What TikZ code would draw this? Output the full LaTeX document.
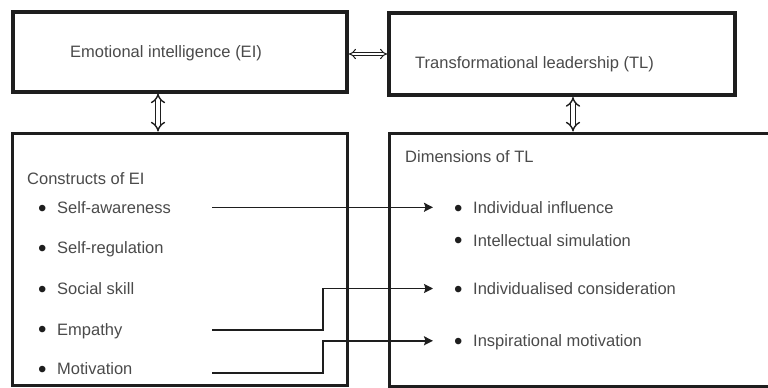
\documentclass[tikz,border=0pt]{standalone}
\usepackage{fontspec}
\setmainfont{Liberation Sans}
\usetikzlibrary{arrows.meta}
\definecolor{txt}{HTML}{4A4A4A}
\definecolor{ln}{HTML}{1E1E1E}
\newcommand{\blt}{\raisebox{-2.7pt}{\color{ln}\fontsize{24}{24}\selectfont\textbullet}\hspace{10.8pt}}
\begin{document}
\begin{tikzpicture}[x=1pt,y=-1pt,
  box/.style={draw=ln,rectangle,inner sep=0pt},
  lbl/.style={anchor=base west,inner sep=0pt,text=txt,font=\fontsize{16.5}{20}\selectfont,text height=12pt,text depth=0pt},
  ritem/.style={lbl,inner xsep=20.8pt},
  dbl/.style={draw=ln,line width=1.4pt,double=white,double distance=3.5pt,{Implies[scale=1.3]}-{Implies[scale=1.3]}},
  conn/.style={draw=ln,line width=1.5pt,-{Stealth[length=9pt,width=9pt,inset=1.5pt]}}]
\useasboundingbox (0,0) rectangle (768,388);
\clip (0,0) rectangle (768,388);
% boxes
\node[box,line width=4pt,minimum width=334pt,minimum height=80pt] (ei) at (180,51.5) {};
\node[box,line width=4pt,minimum width=346pt,minimum height=82pt] (tl) at (562,54) {};
\node[box,line width=3pt,minimum width=334.5pt,minimum height=252.7pt] (con) at (179.75,259.35) {};
\node[box,line width=3pt,minimum width=411pt,minimum height=253pt] (dim) at (594.5,259.5) {};
% titles
\node[lbl] (eit) at (70,57) {Emotional intelligence (EI)};
\node[lbl] (tlt) at (415,68.5) {Transformational leadership (TL)};
\node[lbl] (cont) at (27,184.3) {Constructs of EI};
\node[lbl] (dimt) at (405,162.7) {Dimensions of TL};
% left items
\node[lbl] (sa) at (37.8,213.3) {\blt Self-awareness};
\node[lbl] (sr) at (37.8,253.3) {\blt Self-regulation};
\node[lbl] (ss) at (37.8,294.3) {\blt Social skill};
\node[lbl] (em) at (37.8,335) {\blt Empathy};
\node[lbl] (mo) at (37.8,374.3) {\blt Motivation};
% right items
\node[ritem] (ii) at (433,213.3) {\blt Individual influence};
\node[ritem] (is) at (433,246) {\blt Intellectual simulation};
\node[ritem] (ic) at (433,294.5) {\blt Individualised consideration};
\node[ritem] (im) at (433,346.8) {\blt Inspirational motivation};
% double arrows
\coordinate (lx) at (158,0);
\coordinate (rx) at (573,0);
\coordinate (hy) at (0,54);
\draw[dbl] (ei.south -| lx) -- (con.north -| lx);
\draw[dbl] (tl.south -| rx) -- (dim.north -| rx);
\draw[dbl,line width=1pt,double distance=2.5pt] (ei.east |- hy) -- (tl.west |- hy);
% connectors
\coordinate (sa-out) at (212,207.3);
\coordinate (em-out) at (212,330);
\coordinate (mo-out) at (212,373);
\draw[conn] (sa-out) -- (ii.west);
\draw[conn] (em-out) -- ++(111,0) |- (ic.west);
\draw[conn] (mo-out) -- ++(111,0) |- (im.west);
\end{tikzpicture}
\end{document}
